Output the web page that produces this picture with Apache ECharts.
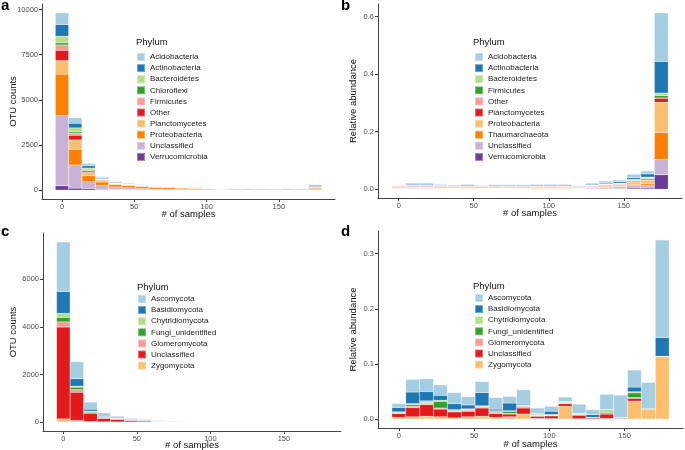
<!DOCTYPE html>
<html>
<head>
<meta charset="utf-8">
<script src="https://cdn.jsdelivr.net/npm/echarts@6/dist/echarts.min.js"></script>
<style>
  html, body { margin: 0; padding: 0; background: #fff; }
  #chart { width: 685px; height: 450px; }
</style>
</head>
<body>
<div id="chart"></div>
<script>
// histogram bin centres (# of samples), 20 bins of width 9.21
const binCenters = [0, 9.21, 18.42, 27.63, 36.84, 46.05, 55.26, 64.47, 73.68, 82.89,
  92.11, 101.32, 110.53, 119.74, 128.95, 138.16, 147.37, 156.58, 165.79, 175];
const xTicks = [0, 50, 100, 150];

// RColorBrewer "Paired"
const paired = ['#A6CEE3', '#1F78B4', '#B2DF8A', '#33A02C', '#FB9A99',
  '#E31A1C', '#FDBF6F', '#FF7F00', '#CAB2D6', '#6A3D9A'];

// a: bacteria, OTU counts
const aPhyla = ['Acidobacteria', 'Actinobacteria', 'Bacteroidetes', 'Chloroflexi', 'Firmicutes',
  'Other', 'Planctomycetes', 'Proteobacteria', 'Unclassified', 'Verrucomicrobia'];
const aCounts = [
  [644, 300, 128, 60, 40, 40, 35, 30, 30, 30, 35, 30, 20, 30, 30, 30, 25, 30, 30, 100],
  [650, 256, 128, 50, 40, 30, 25, 20, 15, 12, 10, 8, 5, 8, 8, 8, 8, 8, 8, 50],
  [367, 222, 78, 30, 15, 10, 8, 6, 5, 3, 2, 2, 2, 2, 2, 2, 2, 2, 2, 5],
  [117, 78, 55, 15, 10, 8, 5, 4, 3, 2, 2, 1, 1, 1, 1, 1, 1, 1, 1, 3],
  [294, 111, 33, 20, 10, 7, 5, 4, 3, 2, 1, 1, 1, 1, 1, 1, 1, 1, 1, 2],
  [572, 255, 78, 35, 20, 15, 10, 8, 6, 5, 4, 3, 2, 3, 3, 3, 3, 3, 3, 10],
  [745, 522, 184, 90, 60, 50, 40, 30, 25, 20, 18, 15, 10, 15, 15, 15, 12, 15, 15, 30],
  [2294, 867, 333, 190, 130, 120, 110, 100, 95, 80, 75, 50, 35, 50, 50, 50, 45, 50, 50, 80],
  [3889, 1278, 372, 220, 150, 110, 70, 50, 38, 27, 20, 12, 8, 12, 12, 12, 10, 12, 12, 20],
  [239, 111, 89, 40, 25, 20, 12, 8, 5, 4, 3, 2, 2, 2, 2, 2, 2, 2, 2, 5]
];
const aYTicks = [0, 2500, 5000, 7500, 10000];

// b: bacteria, relative abundance
const bPhyla = ['Acidobacteria', 'Actinobacteria', 'Bacteroidetes', 'Firmicutes', 'Other',
  'Planctomycetes', 'Proteobacteria', 'Thaumarchaeota', 'Unclassified', 'Verrucomicrobia'];
const bAbund = [
  [0.002, 0.004, 0.004, 0.003, 0.003, 0.003, 0.002, 0.003, 0.003, 0.003, 0.003, 0.003, 0.003, 0.002, 0.004, 0.005, 0.006, 0.012, 0.010, 0.169],
  [0.001, 0.003, 0.003, 0.002, 0.002, 0.003, 0.002, 0.003, 0.003, 0.003, 0.003, 0.003, 0.003, 0.002, 0.003, 0.004, 0.005, 0.006, 0.011, 0.110],
  [0.0005, 0.001, 0.001, 0.001, 0.0005, 0.0005, 0.0005, 0.0005, 0.0005, 0.0005, 0.0005, 0.0005, 0.0005, 0.0005, 0.001, 0.001, 0.001, 0.002, 0.003, 0.009],
  [0.0005, 0.0005, 0.0005, 0.001, 0.0005, 0.0005, 0.0005, 0.0005, 0.0005, 0.0005, 0.0005, 0.0005, 0.0005, 0.0005, 0.001, 0.001, 0.001, 0.002, 0.002, 0.008],
  [0.005, 0.004, 0.004, 0.003, 0.003, 0.003, 0.003, 0.003, 0.003, 0.003, 0.003, 0.003, 0.003, 0.002, 0.002, 0.002, 0.002, 0.002, 0.002, 0.001],
  [0.001, 0.002, 0.002, 0.002, 0.002, 0.002, 0.002, 0.002, 0.002, 0.002, 0.002, 0.002, 0.002, 0.002, 0.002, 0.002, 0.002, 0.003, 0.004, 0.014],
  [0.002, 0.003, 0.003, 0.003, 0.002, 0.003, 0.002, 0.002, 0.002, 0.002, 0.003, 0.003, 0.003, 0.002, 0.003, 0.005, 0.005, 0.008, 0.012, 0.105],
  [0.0005, 0.001, 0.001, 0.001, 0.001, 0.001, 0.001, 0.001, 0.001, 0.001, 0.001, 0.001, 0.001, 0.001, 0.001, 0.002, 0.002, 0.003, 0.005, 0.093],
  [0.001, 0.0025, 0.0025, 0.001, 0.0005, 0.001, 0.0005, 0.0005, 0.0005, 0.0005, 0.0005, 0.001, 0.0005, 0.0005, 0.0035, 0.005, 0.007, 0.010, 0.010, 0.054],
  [0.0005, 0.001, 0.001, 0.001, 0.0005, 0.0005, 0.0005, 0.0005, 0.0005, 0.0005, 0.0005, 0.0005, 0.0005, 0.0005, 0.0005, 0.001, 0.001, 0.004, 0.004, 0.050]
];
const bYTicks = [0, 0.2, 0.4, 0.6];

// c: fungi, OTU counts
const cPhyla = ['Ascomycota', 'Basidiomycota', 'Chytridiomycota', 'Fungi_unidentified',
  'Glomeromycota', 'Unclassified', 'Zygomycota'];
const cCounts = [
  [2085, 723, 300, 150, 90, 60, 50, 30, 20, 15, 10, 8, 6, 5, 5, 5, 5, 6, 5, 8],
  [919, 311, 80, 40, 20, 10, 5, 3, 2, 2, 1, 1, 1, 1, 1, 1, 1, 1, 1, 2],
  [170, 42, 20, 10, 5, 3, 2, 1, 0, 0, 0, 0, 0, 0, 0, 0, 0, 0, 0, 0],
  [187, 102, 45, 20, 8, 5, 3, 2, 2, 1, 1, 0, 0, 0, 0, 1, 0, 1, 0, 0],
  [213, 111, 25, 10, 5, 2, 2, 3, 3, 3, 3, 3, 3, 3, 2, 1, 1, 1, 1, 1],
  [3872, 1191, 350, 145, 110, 68, 47, 25, 22, 19, 10, 8, 6, 6, 5, 4, 3, 3, 2, 3],
  [128, 60, 18, 8, 5, 2, 1, 1, 1, 1, 1, 1, 1, 1, 1, 1, 1, 2, 2, 4]
];
const cYTicks = [0, 2000, 4000, 6000];

// d: fungi, relative abundance
const dPhyla = cPhyla;
const dAbund = [
  [0.0072, 0.023, 0.023, 0.019, 0.020, 0.015, 0.020, 0.021, 0.012, 0.026, 0.010, 0.009, 0.008, 0.017, 0.009, 0.0275, 0.041, 0.031, 0.048, 0.177],
  [0.008, 0.021, 0.017, 0.009, 0.011, 0.007, 0.024, 0.003, 0.014, 0.002, 0.001, 0.006, 0.001, 0.0005, 0.005, 0.0005, 0.0003, 0.0085, 0, 0.034],
  [0.001, 0.002, 0.003, 0.002, 0.001, 0.0015, 0.001, 0.001, 0.001, 0.001, 0.002, 0.001, 0.001, 0.0015, 0.0003, 0.005, 0, 0.002, 0, 0],
  [0.001, 0.003, 0.001, 0.012, 0.0015, 0.001, 0.001, 0.002, 0.004, 0.001, 0.001, 0.0005, 0.001, 0.0005, 0.0002, 0.0025, 0, 0.0085, 0, 0],
  [0.001, 0.002, 0.003, 0.002, 0.0015, 0.002, 0.002, 0.002, 0.001, 0.003, 0.001, 0.001, 0.001, 0.0005, 0.0003, 0.0005, 0.0005, 0.0015, 0, 0.0005],
  [0.007, 0.017, 0.021, 0.014, 0.011, 0.010, 0.015, 0.007, 0.005, 0.011, 0.004, 0.005, 0.005, 0.0065, 0.002, 0.008, 0.0015, 0.005, 0, 0.0005],
  [0.003, 0.004, 0.005, 0.004, 0.002, 0.004, 0.005, 0.003, 0.004, 0.009, 0.001, 0.0007, 0.023, 0.0005, 0.0002, 0.001, 0.0002, 0.0325, 0.0185, 0.113]
];
const dYTicks = [0, 0.1, 0.2, 0.3];

const font = 'Liberation Sans, Arial, sans-serif';
const axisColor = '#444';
const labelColor = '#4d4d4d';

const panels = [
  { key: 'a', phyla: aPhyla, rows: aCounts, yTicks: aYTicks, yName: 'OTU counts', fmt: v => String(v),
    grid: { left: 42, top: 4, width: 293, height: 195 }, yGap: 24, xGap: 10, legend: { left: 136, top: 52 }, title: [136, 37] },
  { key: 'b', phyla: bPhyla, rows: bAbund, yTicks: bYTicks, yName: 'Relative abundance', fmt: v => v.toFixed(1),
    grid: { left: 378, top: 4, width: 304, height: 194 }, yGap: 20, xGap: 10, legend: { left: 474, top: 52 }, title: [473, 37] },
  { key: 'c', phyla: cPhyla, rows: cCounts, yTicks: cYTicks, yName: 'OTU counts', fmt: v => String(v),
    grid: { left: 43, top: 233, width: 298, height: 198 }, yGap: 25, xGap: 9, legend: { left: 137, top: 294 }, title: [137, 282] },
  { key: 'd', phyla: dPhyla, rows: dAbund, yTicks: dYTicks, yName: 'Relative abundance', fmt: v => v.toFixed(1),
    grid: { left: 378, top: 231, width: 305, height: 197 }, yGap: 20, xGap: 11, legend: { left: 474, top: 293 }, title: [473, 281] }
];

// ggplot pads the x range by 5%, which here is exactly one bin on each side
const binWidth = 175 / 19;
const binCats = ['pad-left', ...binCenters.map(String), 'pad-right'];

const grids = [], xAxes = [], yAxes = [], series = [], legends = [];
const titles = [
  { text: 'a', left: 1, top: -2 }, { text: 'b', left: 341, top: -2 },
  { text: 'c', left: 1, top: 224 }, { text: 'd', left: 341, top: 224 }
].map(t => ({ ...t, padding: 0, textStyle: { fontSize: 15, fontWeight: 'bold', color: '#000', fontFamily: font } }));

panels.forEach((p, idx) => {
  grids.push({ ...p.grid, outerBoundsMode: 'none' });
  const totals = binCenters.map((_, j) => p.rows.reduce((s, r) => s + r[j], 0));
  const top = Math.max(...totals);

  // hidden category axis carrying the bars
  const catIndex = xAxes.length;
  xAxes.push({ type: 'category', gridIndex: idx, position: 'bottom', data: binCats, boundaryGap: true, show: false });
  // visible numeric axis for "# of samples"
  xAxes.push({
    type: 'value', gridIndex: idx, position: 'bottom',
    min: binCenters[0] - 1.5 * binWidth, max: binCenters[binCenters.length - 1] + 1.5 * binWidth,
    name: '# of samples', nameLocation: 'middle', nameGap: p.xGap, nameMoveOverlap: false,
    nameTextStyle: { fontSize: 9.5, color: '#111', fontFamily: font, verticalAlign: 'top' },
    splitLine: { show: false },
    axisLine: { show: true, onZero: false, lineStyle: { color: axisColor, width: 1 } },
    axisTick: { show: true, length: 3, customValues: xTicks, lineStyle: { color: axisColor } },
    axisLabel: { customValues: xTicks, margin: 4, fontSize: 7.5, color: labelColor, fontFamily: font }
  });
  yAxes.push({
    type: 'value', gridIndex: idx, position: 'left',
    min: -top * 0.05, max: top * 1.05,
    name: p.yName, nameLocation: 'middle', nameGap: p.yGap, nameMoveOverlap: false,
    nameTextStyle: { fontSize: 9.5, color: '#111', fontFamily: font },
    splitLine: { show: false },
    axisLine: { show: true, onZero: false, lineStyle: { color: axisColor, width: 1 } },
    axisTick: { show: true, length: 3, customValues: p.yTicks, lineStyle: { color: axisColor } },
    axisLabel: { customValues: p.yTicks, margin: 4, fontSize: 7.5, color: labelColor, fontFamily: font, formatter: p.fmt }
  });
  // ggplot stacks the first legend entry on top, so add series bottom-up
  for (let i = p.phyla.length - 1; i >= 0; i--) {
    series.push({
      name: p.key + ':' + p.phyla[i],
      type: 'bar', stack: p.key, xAxisIndex: catIndex, yAxisIndex: idx,
      barWidth: '100%', barCategoryGap: '0%',
      itemStyle: { color: paired[i], borderColor: 'rgba(255,255,255,0.35)', borderWidth: 0.4 },
      emphasis: { disabled: true },
      data: binCenters.map((x, j) => [String(x), p.rows[i][j]])
    });
  }
  legends.push({
    orient: 'vertical', left: p.legend.left, top: p.legend.top, padding: 0,
    icon: 'rect', itemWidth: 8, itemHeight: 8, itemGap: 1.1, selectedMode: false,
    data: p.phyla.map(n => p.key + ':' + n),
    formatter: n => n.slice(2),
    textStyle: { fontSize: 8, color: '#222', fontFamily: font }
  });
  titles.push({
    text: 'Phylum', left: p.title[0], top: p.title[1], padding: 0,
    textStyle: { fontSize: 9.5, fontWeight: 'normal', color: '#111', fontFamily: font }
  });
});

const chart = echarts.init(document.getElementById('chart'), null, { renderer: 'canvas' });
chart.setOption({
  animation: false,
  backgroundColor: '#fff',
  textStyle: { fontFamily: font },
  title: titles,
  legend: legends,
  grid: grids,
  xAxis: xAxes,
  yAxis: yAxes,
  series: series
});
</script>
</body>
</html>
